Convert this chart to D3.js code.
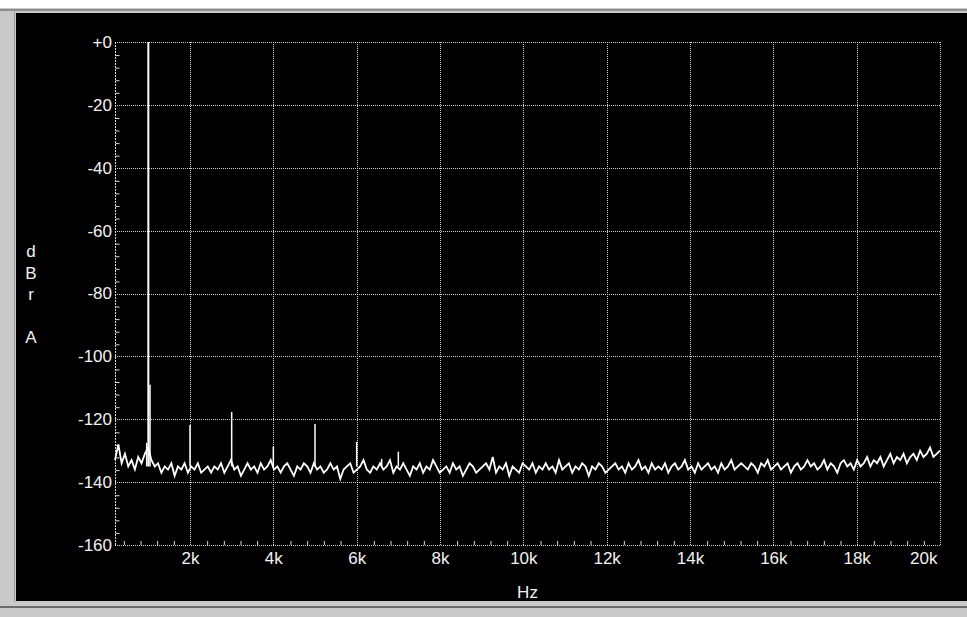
<!DOCTYPE html>
<html>
<head>
<meta charset="utf-8">
<script src="https://cdn.jsdelivr.net/npm/d3@7"></script>
<style>
  body { margin: 0; background: #fff; }
  svg text { font-family: "Liberation Sans Narrow", "Liberation Sans", Arial, sans-serif; fill: #f2f2f2; font-size: 17px; }
</style>
</head>
<body>
<svg id="chart"></svg>
<script>
// axis ticks
var xTicks = [2000, 4000, 6000, 8000, 10000, 12000, 14000, 16000, 18000, 20000];
var xTickLabels = ["2k", "4k", "6k", "8k", "10k", "12k", "14k", "16k", "18k", "20k"];
var yTicks = [0, -20, -40, -60, -80, -100, -120, -140, -160];
var yTickLabels = ["+0", "-20", "-40", "-60", "-80", "-100", "-120", "-140", "-160"];

// FFT noise floor, evenly spaced from 200 Hz to 20 kHz (dBr A)
var noiseLevels = [
    -133, -128, -134, -131, -135, -133, -136, -132, -134, -131,
    -129, -133, -135, -134, -137, -135, -136, -134, -138, -135,
    -136, -134, -137, -135, -136, -134, -137, -136, -135, -137,
    -135, -136, -134, -137, -135, -133, -136, -135, -138, -136,
    -134, -136, -135, -137, -134, -136, -135, -133, -136, -135,
    -137, -135, -134, -136, -138, -135, -136, -134, -135, -137,
    -134, -136, -135, -137, -136, -134, -136, -135, -139, -136,
    -135, -134, -137, -136, -135, -133, -136, -137, -135, -136,
    -134, -136, -135, -133, -137, -135, -136, -134, -136, -138,
    -135, -136, -134, -137, -135, -136, -133, -135, -137, -136,
    -135, -137, -134, -136, -135, -138, -136, -134, -135, -137,
    -136, -135, -134, -136, -132, -137, -135, -136, -134, -138,
    -135, -136, -137, -134, -135, -136, -134, -137, -135, -136,
    -134, -136, -135, -137, -133, -136, -135, -134, -137, -135,
    -136, -134, -135, -138, -135, -136, -134, -135, -137, -136,
    -135, -134, -136, -135, -137, -134, -136, -135, -133, -136,
    -135, -137, -134, -136, -135, -136, -134, -137, -135, -134,
    -136, -135, -133, -136, -135, -137, -134, -136, -135, -134,
    -136, -135, -137, -134, -136, -135, -133, -136, -135, -134,
    -135, -136, -134, -135, -137, -134, -135, -133, -136, -135,
    -134, -136, -135, -134, -137, -135, -134, -136, -135, -133,
    -135, -134, -136, -135, -133, -136, -134, -135, -137, -134,
    -133, -135, -134, -136, -133, -135, -134, -132, -135, -133,
    -134, -132, -135, -133, -131, -134, -132, -133, -131, -134,
    -132, -131, -133, -130, -132, -131, -129, -132, -131, -130
];

// fundamental and harmonic lines
var peakFreqs = [960, 1000, 1040, 2000, 3000, 4000, 5000, 6000, 6600, 7000];
var peakLevels = [-127.5, 0, -109, -121.8, -117.7, -128.7, -121.5, -127.2, -132.6, -130.3];
var peakBase = -135;

var W = 967, H = 617;
var plotLeft = 115, plotTop = 42, plotRight = 940, plotBottom = 545;

var svg = d3.select('#chart')
    .attr('width', W)
    .attr('height', H);

// window chrome
svg.append('rect').attr('x', 0).attr('y', 0).attr('width', W).attr('height', H).attr('fill', '#fff');
svg.append('rect').attr('x', 0).attr('y', 8).attr('width', W).attr('height', H - 8).attr('fill', '#c9c9c9');
svg.append('rect').attr('x', 0).attr('y', 9).attr('width', W).attr('height', 2).attr('fill', '#8a8a8a');
svg.append('rect').attr('x', 16).attr('y', 13).attr('width', W - 16).attr('height', 588).attr('fill', '#000');
svg.append('rect').attr('x', 0).attr('y', 606).attr('width', W).attr('height', 2).attr('fill', '#6a6a6a');
svg.append('rect').attr('x', 14).attr('y', 12).attr('width', 1).attr('height', 590).attr('fill', '#9a9a9a');

var x = d3.scaleLinear().domain([200, 20000]).range([plotLeft, plotRight]);
var y = d3.scaleLinear().domain([-160, 0]).range([plotBottom, plotTop]);

// grid
var grid = svg.append('g').attr('class', 'grid');
grid.selectAll('line.v')
    .data(xTicks)
    .enter().append('line')
    .attr('class', 'v')
    .attr('x1', function(d) { return Math.round(x(d)) + 0.5 })
    .attr('x2', function(d) { return Math.round(x(d)) + 0.5 })
    .attr('y1', plotTop)
    .attr('y2', plotBottom)
    .attr('stroke', '#cfcfcf')
    .attr('stroke-dasharray', '1,1');
grid.selectAll('line.h')
    .data(yTicks)
    .enter().append('line')
    .attr('class', 'h')
    .attr('x1', plotLeft)
    .attr('x2', plotRight)
    .attr('y1', function(d) { return Math.round(y(d)) + 0.5 })
    .attr('y2', function(d) { return Math.round(y(d)) + 0.5 })
    .attr('stroke', '#cfcfcf')
    .attr('stroke-dasharray', '1,1');
svg.append('line')
    .attr('x1', plotLeft + 0.5).attr('x2', plotLeft + 0.5)
    .attr('y1', plotTop).attr('y2', plotBottom + 1)
    .attr('stroke', '#dcdcdc').attr('stroke-dasharray', '2,1');

// minor ticks
var minorY = d3.range(-156, 0, 4).filter(function(d) { return d % 20 != 0 });
var minorX = d3.range(400, 20000, 400).filter(function(d) { return d % 2000 != 0 });

svg.append('g')
    .attr('transform', 'translate(' + (plotLeft + 0.5) + ',0.5)')
    .call(d3.axisRight(y).tickValues(minorY).tickSize(4).tickFormat(''))
    .call(function(g) { g.select('.domain').remove() })
    .selectAll('line').attr('stroke', '#dcdcdc');

svg.append('g')
    .attr('transform', 'translate(0.5,' + plotBottom + ')')
    .call(d3.axisTop(x).tickValues(minorX).tickSize(4).tickFormat(''))
    .call(function(g) { g.select('.domain').remove() })
    .selectAll('line').attr('stroke', '#dcdcdc');

// tick labels
var yAxis = svg.append('g')
    .attr('transform', 'translate(' + (plotLeft - 2) + ',0)')
    .call(d3.axisLeft(y).tickValues(yTicks).tickSize(0).tickPadding(1)
        .tickFormat(function(d, i) { return yTickLabels[i] }));
yAxis.select('.domain').remove();
yAxis.selectAll('text').attr('font-size', null).attr('font-family', null).attr('fill', null);

var xAxis = svg.append('g')
    .attr('transform', 'translate(0,' + (plotBottom + 7) + ')')
    .call(d3.axisBottom(x).tickValues(xTicks).tickSize(0).tickPadding(0)
        .tickFormat(function(d, i) { return xTickLabels[i] }));
xAxis.select('.domain').remove();
xAxis.selectAll('text').attr('font-size', null).attr('font-family', null).attr('fill', null);
xAxis.selectAll('text').filter(function(d) { return d == 20000 })
    .attr('text-anchor', 'end').attr('x', -3);

// axis titles
svg.append('text')
    .attr('x', (plotLeft + plotRight) / 2)
    .attr('y', 598)
    .attr('text-anchor', 'middle')
    .text('Hz');

var yTitle = ['d', 'B', 'r', '', 'A'];
svg.selectAll('text.ytitle')
    .data(yTitle)
    .enter().append('text')
    .attr('class', 'ytitle')
    .attr('x', 31)
    .attr('y', function(d, i) { return 257 + i * 21.5 })
    .attr('text-anchor', 'middle')
    .text(function(d) { return d });

// trace
var step = (20000 - 200) / (noiseLevels.length - 1);
var line = d3.line()
    .x(function(d, i) { return x(200 + i * step) })
    .y(function(d) { return y(d) });

svg.append('path')
    .datum(noiseLevels)
    .attr('d', line)
    .attr('fill', 'none')
    .attr('stroke', '#fff')
    .attr('stroke-width', 1.8);

svg.selectAll('line.peak')
    .data(peakFreqs)
    .enter().append('line')
    .attr('class', 'peak')
    .attr('x1', function(d) { return x(d) })
    .attr('x2', function(d) { return x(d) })
    .attr('y1', y(peakBase))
    .attr('y2', function(d, i) { return y(peakLevels[i]) })
    .attr('stroke', '#fff')
    .attr('stroke-width', function(d, i) { return peakLevels[i] > -20 ? 2 : 1.5 });
</script>
</body>
</html>
